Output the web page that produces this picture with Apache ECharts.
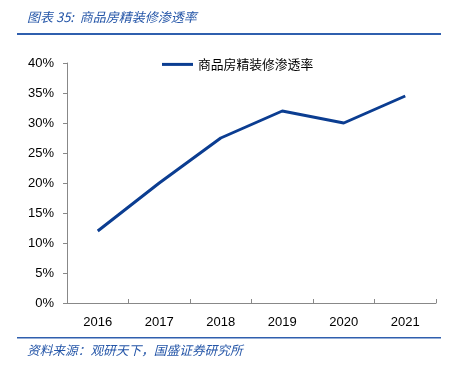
<!DOCTYPE html>
<html><head><meta charset="utf-8">
<script src="https://cdn.jsdelivr.net/npm/echarts@6/dist/echarts.min.js"></script>
<style>html,body{margin:0;padding:0;background:#fff;}#c{width:457px;height:367px;}</style>
</head><body><div id="c"></div>
<script>
const categories = ['2016','2017','2018','2019','2020','2021'];
const seriesName = '商品房精装修渗透率';
const values = [0.12, 0.20, 0.275, 0.32, 0.30, 0.345];
const titleText = '图表 35:  商品房精装修渗透率';
const sourceText = '资料来源：观研天下，国盛证券研究所';

const chart = echarts.init(document.getElementById('c'));
chart.setOption({
  animation: false,
  graphic: [
    {type:'text', left:27, top:11, style:{text:titleText, fill:'#2556a8', font:'italic 13px "Noto Sans CJK SC", sans-serif'}},
    {type:'rect', shape:{x:17, y:33, width:424, height:2}, style:{fill:'#2f5fae'}},
    {type:'rect', shape:{x:17, y:337, width:424, height:1.5}, style:{fill:'#2f5fae'}},
    {type:'text', left:27, top:344, style:{text:sourceText, fill:'#2556a8', font:'italic 12.7px "Noto Sans CJK SC", sans-serif'}}
  ],
  legend: {
    top: 53, left: 157,
    itemWidth: 31, itemHeight: 3, itemGap: 4,
    icon: 'rect',
    textStyle: {fontSize: 12.8, color: '#000', fontFamily: '"Noto Sans CJK SC", sans-serif'},
    data: [seriesName]
  },
  grid: {left: 67, right: 21, top: 63, bottom: 64},
  xAxis: {
    type: 'category', data: categories, boundaryGap: true,
    axisLine: {lineStyle: {color: '#888'}},
    axisTick: {show: true, inside: true, length: 4, lineStyle: {color: '#888'}},
    axisLabel: {color: '#000', fontSize: 13, margin: 13, fontFamily: '"Liberation Sans", Arial, sans-serif'}
  },
  yAxis: {
    type: 'value', min: 0, max: 0.4, interval: 0.05,
    axisLine: {show: true, lineStyle: {color: '#888'}},
    axisTick: {show: true, length: 4, lineStyle: {color: '#888'}},
    splitLine: {show: false},
    axisLabel: {color: '#000', fontSize: 13, margin: 13, fontFamily: '"Liberation Sans", Arial, sans-serif',
      formatter: v => Math.round(v*100) + '%'}
  },
  series: [{
    name: seriesName, type: 'line', data: values,
    symbol: 'none', lineStyle: {width: 3, color: '#0b3d91'}, itemStyle: {color: '#0b3d91'}
  }]
});
</script></body></html>
